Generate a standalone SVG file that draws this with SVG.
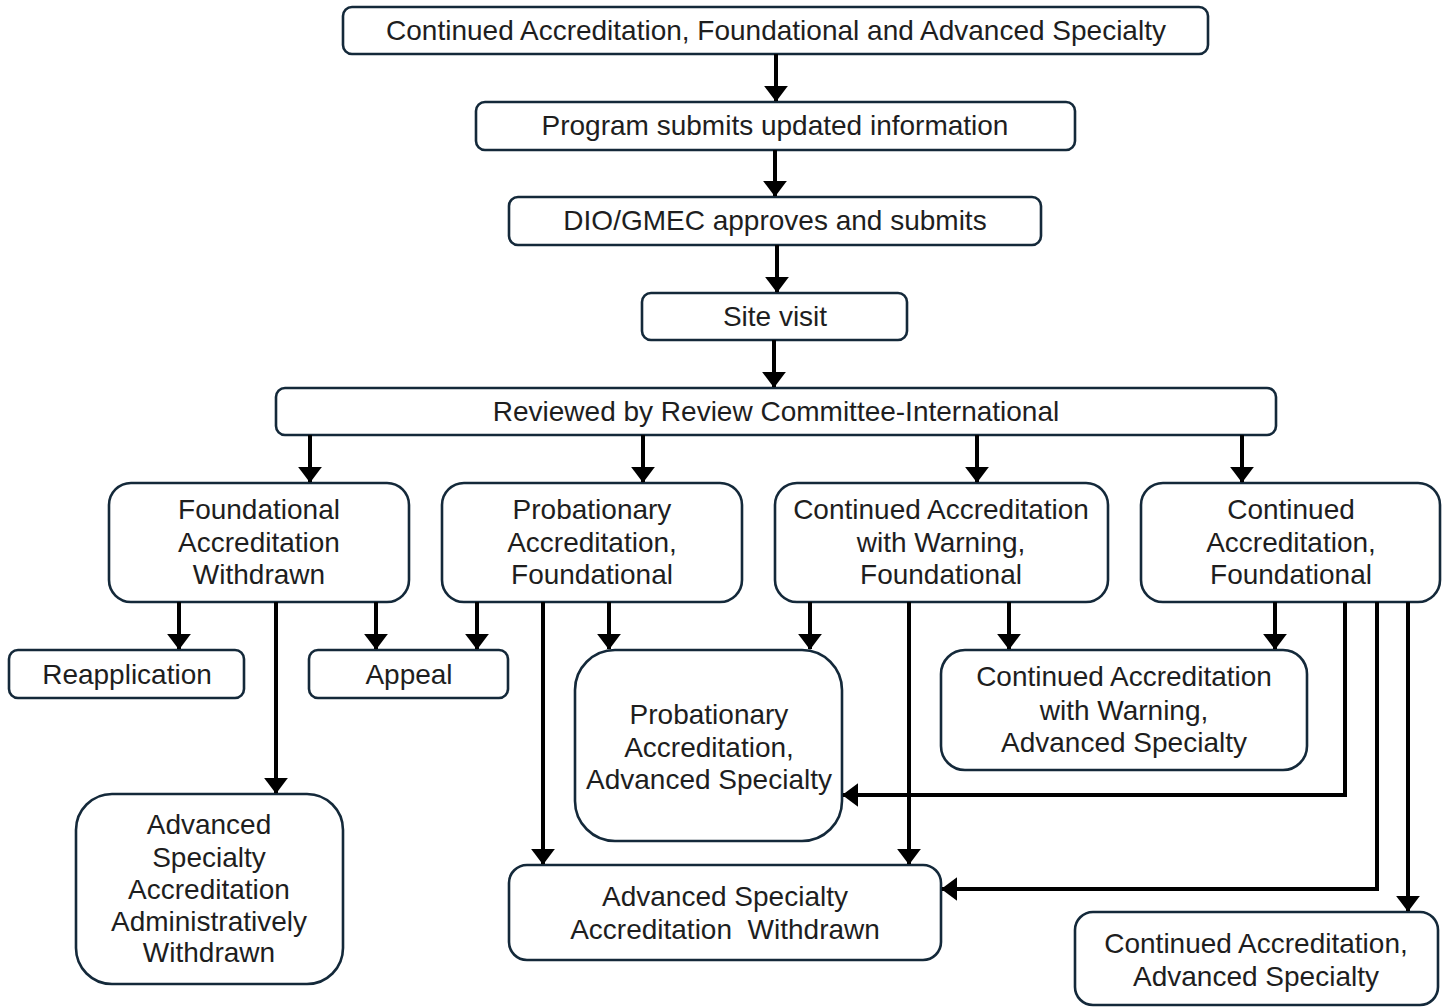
<svg xmlns="http://www.w3.org/2000/svg" width="1452" height="1008" viewBox="0 0 1452 1008">
<defs>
<marker id="ah" markerWidth="4" markerHeight="6" refX="3.8" refY="3" orient="auto" markerUnits="strokeWidth">
<path d="M0,0 L4,3 L0,6 z" fill="#000"/>
</marker>
<style>
.box{fill:#fff;stroke:#14293a;stroke-width:2.6}
.t{font-family:"Liberation Sans",Arial,sans-serif;font-size:28px;fill:#1e1e1e;text-anchor:middle}
.c{fill:none;stroke:#000;stroke-width:4;marker-end:url(#ah)}
</style>
</defs>
<rect width="1452" height="1008" fill="#fff"/>
<g id="n1"><rect class="box" x="343" y="7" width="865" height="47" rx="9"/><text class="t" x="776" y="40">Continued Accreditation, Foundational and Advanced Specialty</text></g>
<g id="n2"><rect class="box" x="476" y="102" width="599" height="48" rx="9"/><text class="t" x="775" y="135">Program submits updated information</text></g>
<g id="n3"><rect class="box" x="509" y="197" width="532" height="48" rx="9"/><text class="t" x="775" y="230">DIO/GMEC approves and submits</text></g>
<g id="n4"><rect class="box" x="642" y="293" width="265" height="47" rx="9"/><text class="t" x="775" y="326">Site visit</text></g>
<g id="n5"><rect class="box" x="276" y="388" width="1000" height="47" rx="9"/><text class="t" x="776" y="421">Reviewed by Review Committee-International</text></g>
<g id="n6"><rect class="box" x="109" y="483" width="300" height="119" rx="22"/><text class="t" x="259" y="519">Foundational</text><text class="t" x="259" y="552">Accreditation</text><text class="t" x="259" y="584">Withdrawn</text></g>
<g id="n7"><rect class="box" x="442" y="483" width="300" height="119" rx="22"/><text class="t" x="592" y="519">Probationary</text><text class="t" x="592" y="552">Accreditation,</text><text class="t" x="592" y="584">Foundational</text></g>
<g id="n8"><rect class="box" x="775" y="483" width="333" height="119" rx="22"/><text class="t" x="941" y="519">Continued Accreditation</text><text class="t" x="941" y="552">with Warning,</text><text class="t" x="941" y="584">Foundational</text></g>
<g id="n9"><rect class="box" x="1141" y="483" width="299" height="119" rx="22"/><text class="t" x="1291" y="519">Continued</text><text class="t" x="1291" y="552">Accreditation,</text><text class="t" x="1291" y="584">Foundational</text></g>
<g id="n10"><rect class="box" x="9" y="650" width="235" height="48" rx="9"/><text class="t" x="127" y="684">Reapplication</text></g>
<g id="n11"><rect class="box" x="309" y="650" width="199" height="48" rx="9"/><text class="t" x="409" y="684">Appeal</text></g>
<g id="n12"><rect class="box" x="575" y="650" width="267" height="191" rx="40"/><text class="t" x="709" y="724">Probationary</text><text class="t" x="709" y="757">Accreditation,</text><text class="t" x="709" y="789">Advanced Specialty</text></g>
<g id="n13"><rect class="box" x="941" y="650" width="366" height="120" rx="24"/><text class="t" x="1124" y="686">Continued Accreditation</text><text class="t" x="1124" y="720">with Warning,</text><text class="t" x="1124" y="752">Advanced Specialty</text></g>
<g id="n14"><rect class="box" x="76" y="794" width="267" height="190" rx="36"/><text class="t" x="209" y="834">Advanced</text><text class="t" x="209" y="867">Specialty</text><text class="t" x="209" y="899">Accreditation</text><text class="t" x="209" y="931">Administratively</text><text class="t" x="209" y="962">Withdrawn</text></g>
<g id="n15"><rect class="box" x="509" y="865" width="432" height="95" rx="18"/><text class="t" x="725" y="906">Advanced Specialty</text><text class="t" x="725" y="939" xml:space="preserve">Accreditation  Withdrawn</text></g>
<g id="n16"><rect class="box" x="1075" y="912" width="363" height="93" rx="18"/><text class="t" x="1256" y="953">Continued Accreditation,</text><text class="t" x="1256" y="986">Advanced Specialty</text></g>
<g id="connectors">
<path class="c" d="M776,54 V101"/>
<path class="c" d="M775,150 V196"/>
<path class="c" d="M777,245 V292"/>
<path class="c" d="M774,340 V387"/>
<path class="c" d="M310,435 V482"/>
<path class="c" d="M643,435 V482"/>
<path class="c" d="M977,435 V482"/>
<path class="c" d="M1242,435 V482"/>
<path class="c" d="M179,602 V649"/>
<path class="c" d="M376,602 V649"/>
<path class="c" d="M276,602 V793"/>
<path class="c" d="M477,602 V649"/>
<path class="c" d="M609,602 V649"/>
<path class="c" d="M543,602 V864"/>
<path class="c" d="M810,602 V649"/>
<path class="c" d="M1009,602 V649"/>
<path class="c" d="M909,602 V864"/>
<path class="c" d="M1275,602 V649"/>
<path class="c" d="M1345,602 V795 H843"/>
<path class="c" d="M1377,602 V889 H942"/>
<path class="c" d="M1408,602 V911"/>
</g>
</svg>
